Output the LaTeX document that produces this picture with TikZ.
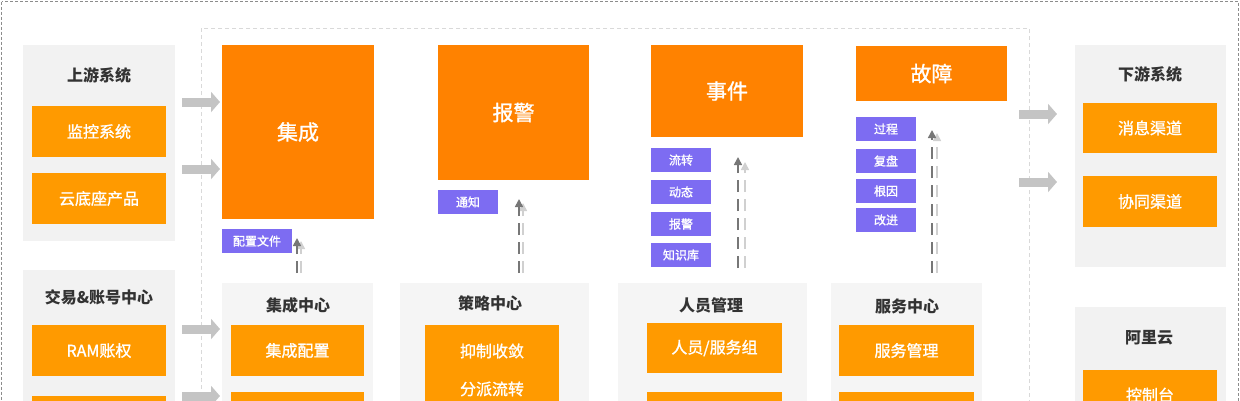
\documentclass[tikz,border=0pt]{standalone}
\usepackage{fontspec}
\setmainfont{Noto Sans CJK SC}
\newfontfamily\medfont[FakeBold=1.2]{Noto Sans CJK SC}
\usetikzlibrary{arrows.meta,calc}
\definecolor{bigor}{HTML}{FF8200}
\definecolor{subor}{HTML}{FF9A00}
\definecolor{purp}{HTML}{7D6CF2}
\definecolor{grpA}{HTML}{F2F2F2}
\definecolor{grpB}{HTML}{F5F5F5}
\definecolor{arrg}{HTML}{C4C4C4}
\definecolor{ttl}{HTML}{333333}
\definecolor{dkarr}{HTML}{777777}
\definecolor{ltarr}{HTML}{D0D0D0}
\tikzset{
 bx/.style={anchor=north west, inner sep=0pt, outer sep=0pt},
 grpbox/.style={bx, fill=#1},
 bigbox/.style={bx, fill=bigor, text=white, font=\medfont\fontsize{21}{21}\selectfont},
 subbox/.style={bx, fill=subor, text=white, font=\medfont\fontsize{16}{16}\selectfont, minimum width=134pt, minimum height=51pt},
 tagbox/.style={bx, fill=purp, text=white, font=\medfont\fontsize{12}{12}\selectfont, minimum width=60pt, minimum height=24pt},
 ttlnode/.style={text=ttl, font=\bfseries\fontsize{16}{16}\selectfont, inner sep=0pt},
 subtxt/.style={text=white, font=\medfont\fontsize{16}{16}\selectfont, inner sep=0pt},
 fatarrow/.style={draw=arrg, line width=9pt, -{Triangle[width=20pt,length=9pt]}},
 darr/.style={draw=#1, line width=1.6pt, dash pattern=on 12pt off 7pt, -{Triangle[width=8pt,length=8pt,fill=#1]}},
}
\begin{document}
\begin{tikzpicture}[x=1pt,y=-1pt]
\useasboundingbox (0,0) rectangle (1240,400);
\clip (0,0) rectangle (1240,400);
% frames
\draw[draw=black!45, line width=0.8pt, dash pattern=on 3pt off 2pt] (1.5,1.5) rectangle (1238.5,600);
\draw[draw=black!15, line width=0.8pt, dash pattern=on 4pt off 3pt] (201,28) rectangle (1029,600);

% upstream
\node[grpbox=grpA, minimum width=152pt, minimum height=196pt] (up) at (23,45) {};
\node[ttlnode] (upt) at (99,75) {上游系统};
\node[subbox] (mon) at (32,106) {监控系统};
\node[subbox] (cloud) at (32,173) {云底座产品};

% trade & account
\node[grpbox=grpA, minimum width=152pt, minimum height=220pt] (trade) at (23,270) {};
\node[ttlnode] (tradet) at (99,297) {交易\&账号中心};
\node[subbox] (ram) at (32,325) {RAM账权};
\node[subbox] (trade2) at (32,396) {};

% integration
\node[bigbox, minimum width=152pt, minimum height=174pt] (jc) at (222,45) {集成};
\node[tagbox, minimum width=70pt] (cfg) at (222,229) {配置文件};
\node[grpbox=grpB, minimum width=151pt, minimum height=200pt] (jczx) at (222,283) {};
\node[ttlnode] (jczxt) at (298,305) {集成中心};
\node[subbox, minimum width=133pt] (jcpz) at (231,325) {集成配置};
\node[subbox, minimum width=133pt] (jc2) at (231,392) {};

% alert
\node[bigbox, minimum width=151pt, minimum height=135pt] (bj) at (438,45) {报警};
\node[tagbox] (tz) at (438,190) {通知};
\node[grpbox=grpB, minimum width=189pt, minimum height=200pt] (cl) at (400,283) {};
\node[ttlnode] (clt) at (490,303) {策略中心};
\node[subbox, minimum height=100pt] (clb) at (425,325) {};
\node[subtxt] (yz) at (492,351) {抑制收敛};
\node[subtxt] (fp) at (492,389) {分派流转};

% incident
\node[bigbox, minimum width=152pt, minimum height=92pt] (sj) at (651,45) {事件};
\node[tagbox] (lz) at (651,148) {流转};
\node[tagbox] (dt) at (651,180) {动态};
\node[tagbox] (bj2) at (651,212) {报警};
\node[tagbox] (zsk) at (651,243) {知识库};
\node[grpbox=grpB, minimum width=189pt, minimum height=200pt] (ry) at (618,283) {};
\node[ttlnode] (ryt) at (711,305) {人员管理};
\node[subbox, minimum width=135pt, minimum height=50pt] (ryfw) at (647,323) {人员/服务组};
\node[subbox, minimum width=135pt] (ry2) at (647,392) {};

% fault
\node[bigbox, minimum width=151pt, minimum height=55pt] (gz) at (856,46) {故障};
\node[tagbox] (gc) at (856,117) {过程};
\node[tagbox] (fp2) at (856,149) {复盘};
\node[tagbox] (gy) at (856,179) {根因};
\node[tagbox] (gj) at (856,208) {改进};
\node[grpbox=grpB, minimum width=151pt, minimum height=200pt] (fw) at (831,283) {};
\node[ttlnode] (fwt) at (907,306) {服务中心};
\node[subbox, minimum width=135pt] (fwgl) at (839,325) {服务管理};
\node[subbox, minimum width=135pt] (fw2) at (839,392) {};

% downstream
\node[grpbox=grpA, minimum width=151pt, minimum height=222pt] (down) at (1075,45) {};
\node[ttlnode] (downt) at (1150,74) {下游系统};
\node[subbox, minimum height=50pt] (xx) at (1083,103) {消息渠道};
\node[subbox] (xt) at (1083,176) {协同渠道};

% aliyun
\node[grpbox=grpA, minimum width=151pt, minimum height=200pt] (ali) at (1075,307) {};
\node[ttlnode] (alit) at (1149,338) {阿里云};
\node[subbox, minimum height=50pt] (kzt) at (1083,370) {控制台};

% fat arrows
\coordinate (a1) at ($(up.north east)+(7,57)$);
\coordinate (a2) at ($(up.north east)+(7,124)$);
\coordinate (a3) at ($(trade.north east)+(7,59)$);
\coordinate (a4) at ($(trade.north east)+(7,126)$);
\coordinate (a5) at ($(gz.north east)+(12,68)$);
\coordinate (a6) at ($(gz.north east)+(12,136)$);
\draw[fatarrow, shorten >=2pt] (a1) -- (a1 -| jc.west);
\draw[fatarrow, shorten >=2pt] (a2) -- (a2 -| jc.west);
\draw[fatarrow, shorten >=2pt] (a3) -- (a3 -| jczx.west);
\draw[fatarrow, shorten >=2pt] (a4) -- (a4 -| jczx.west);
\draw[fatarrow, shorten >=18pt] (a5) -- (a5 -| down.west);
\draw[fatarrow, shorten >=18pt] (a6) -- (a6 -| down.west);

% dashed up arrows
\coordinate (d1s) at (297,273); \coordinate (d1e) at (297,238);
\coordinate (l1s) at (301,273); \coordinate (l1e) at (301,241);
\coordinate (d2s) at (519,273); \coordinate (d2e) at (519,199);
\coordinate (l2s) at (523,273); \coordinate (l2e) at (523,203);
\coordinate (d3s) at (738,268); \coordinate (d3e) at (738,157);
\coordinate (l3s) at (745,268); \coordinate (l3e) at (745,162);
\coordinate (d4s) at (932,273); \coordinate (d4e) at (932,130);
\coordinate (l4s) at (937,273); \coordinate (l4e) at (937,133);
\draw[darr=ltarr] (l1s) -- (l1e);
\draw[darr=dkarr] (d1s) -- (d1e);
\draw[darr=ltarr] (l2s) -- (l2e);
\draw[darr=dkarr] (d2s) -- (d2e);
\draw[darr=ltarr] (l3s) -- (l3e);
\draw[darr=dkarr] (d3s) -- (d3e);
\draw[darr=ltarr] (l4s) -- (l4e);
\draw[darr=dkarr] (d4s) -- (d4e);
\end{tikzpicture}
\end{document}
